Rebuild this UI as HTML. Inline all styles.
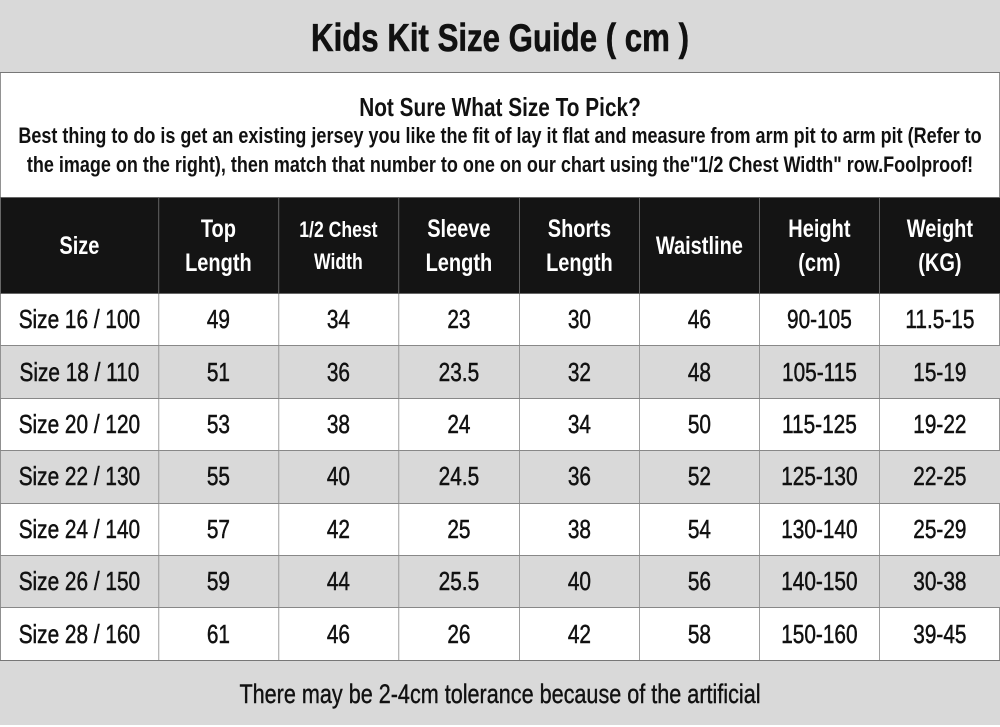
<!DOCTYPE html>
<html><head><meta charset="utf-8"><style>
*{margin:0;padding:0;box-sizing:border-box}
body{width:1000px;height:725px;background:#fff;font-family:"Liberation Sans",sans-serif;color:#111;overflow:hidden;position:relative}
.sc{position:absolute;left:0;top:0;width:1250px;height:725px;transform:scaleX(0.8);transform-origin:0 0}
.wrap{position:absolute;left:0;top:0;width:1250px;height:725px;border:1px solid #777}
.title{position:absolute;left:0;top:0;width:1250px;height:73px;background:#d9d9d9;border-bottom:1px solid #777;text-align:center;font-weight:bold;font-size:39px;line-height:78px;-webkit-text-stroke:0.6px #111}
.intro{position:absolute;left:0;top:73px;width:1250px;height:124px;text-align:center;font-weight:bold}
.intro h2{font-size:26px;line-height:28px;margin-top:20px}
.intro p{font-size:22.5px;line-height:29px;white-space:nowrap}
table{position:absolute;left:0;top:197px;border-collapse:collapse;table-layout:fixed;width:1250px}
td,th{border:1px solid #888;text-align:center;vertical-align:middle}
th{background:#141414;color:#fff;height:96px;font-size:25px;line-height:34px;font-weight:bold;border-color:#666}
td{height:52.4px;font-size:26px;-webkit-text-stroke:0.5px #111}
tr.g td{background:#d9d9d9}
.foot{position:absolute;left:0;top:660px;width:1250px;height:65px;background:#d9d9d9;border-top:1px solid #777;text-align:center;font-size:27px;line-height:66px;-webkit-text-stroke:0.4px #111}
</style></head><body>
<div class="sc">
<div class="wrap"></div>
<div class="title">Kids Kit Size Guide ( cm )</div>
<div class="intro"><h2>Not Sure What Size To Pick?</h2>
<p>Best thing to do is get an existing jersey you like the fit of lay it flat and measure from arm pit to arm pit (Refer to<br>the image on the right), then match that number to one on our chart using the"1/2 Chest Width" row.Foolproof!</p></div>
<table>
<colgroup><col style="width:197.5px"><col style="width:150px"><col style="width:150px"><col style="width:151.25px"><col style="width:150px"><col style="width:150px"><col style="width:150px"><col style="width:151.25px"></colgroup>
<tr><th>Size</th><th>Top<br>Length</th><th style="font-size:22px;line-height:32px">1/2 Chest<br>Width</th><th>Sleeve<br>Length</th><th>Shorts<br>Length</th><th>Waistline</th><th>Height<br>(cm)</th><th>Weight<br>(KG)</th></tr>
<tr><td>Size 16 / 100</td><td>49</td><td>34</td><td>23</td><td>30</td><td>46</td><td>90-105</td><td>11.5-15</td></tr>
<tr class="g"><td>Size 18 / 110</td><td>51</td><td>36</td><td>23.5</td><td>32</td><td>48</td><td>105-115</td><td>15-19</td></tr>
<tr><td>Size 20 / 120</td><td>53</td><td>38</td><td>24</td><td>34</td><td>50</td><td>115-125</td><td>19-22</td></tr>
<tr class="g"><td>Size 22 / 130</td><td>55</td><td>40</td><td>24.5</td><td>36</td><td>52</td><td>125-130</td><td>22-25</td></tr>
<tr><td>Size 24 / 140</td><td>57</td><td>42</td><td>25</td><td>38</td><td>54</td><td>130-140</td><td>25-29</td></tr>
<tr class="g"><td>Size 26 / 150</td><td>59</td><td>44</td><td>25.5</td><td>40</td><td>56</td><td>140-150</td><td>30-38</td></tr>
<tr><td>Size 28 / 160</td><td>61</td><td>46</td><td>26</td><td>42</td><td>58</td><td>150-160</td><td>39-45</td></tr>
</table>
<div class="foot">There may be 2-4cm tolerance because of the artificial</div>
</div>
</body></html>
